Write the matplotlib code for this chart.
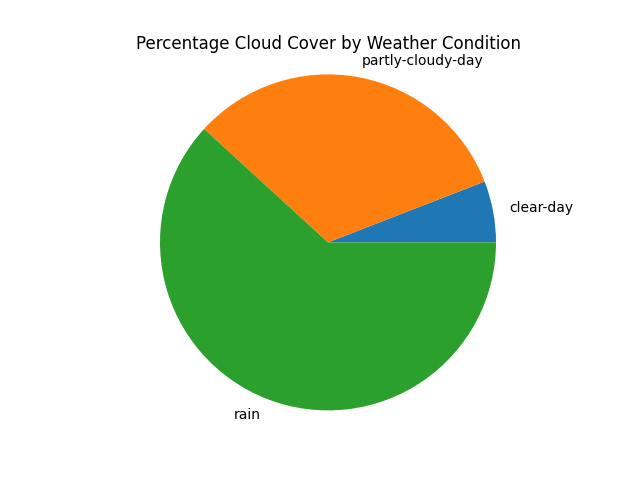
import matplotlib

matplotlib.use("Agg")
import matplotlib.pyplot as plt

conditions = ["clear-day", "partly-cloudy-day", "rain"]
cloud_cover = [5.9, 32.3, 61.8]

fig, ax = plt.subplots(figsize=(6.4, 4.8))
ax.pie(cloud_cover, labels=conditions)
ax.set_xlim(-1.1, 1.1)
ax.set_ylim(-1.1, 1.1)
ax.set_title("Percentage Cloud Cover by Weather Condition")
fig.savefig("out.png", dpi=100)
